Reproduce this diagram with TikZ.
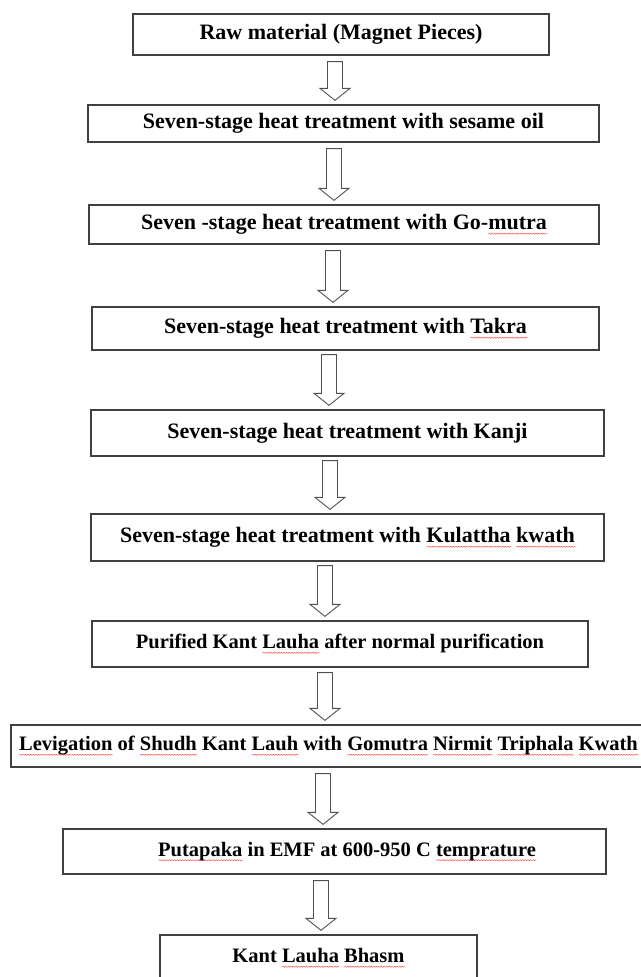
\documentclass[tikz,border=0pt]{standalone}
\usepackage{fontspec}
\setmainfont{Liberation Serif}
\usetikzlibrary{calc,decorations.pathmorphing}
\newsavebox\wordbox
\newcommand\squig[1]{\sbox\wordbox{#1}\rlap{\tikz[baseline=0pt]\draw[red!70,line width=.45pt,decorate,decoration={snake,amplitude=.6pt,segment length=2.6pt}] (0pt,-4pt) -- (\wd\wordbox,-4pt);}\usebox\wordbox}
\definecolor{boxgray}{HTML}{404040}
\definecolor{arrowgray}{HTML}{505050}
\tikzset{
  stepbox/.style={draw=boxgray,line width=1.3pt,inner sep=0pt,font=\bfseries\fontsize{22}{26}\selectfont},
  lowbox/.style={stepbox,font=\bfseries\fontsize{20.5}{24}\selectfont},
  blockarr/.style={draw=arrowgray,line width=.9pt,to path={let \p1=(\tikztostart),\p2=(\tikztotarget) in
    (\x1-7.5pt,\y1)--(\x1+7.5pt,\y1)--(\x1+7.5pt,\y2+16pt)--(\x1+15pt,\y2+16pt)--(\x1,\y2+4pt)
    --(\x1-15pt,\y2+16pt)--(\x1-7.5pt,\y2+16pt)--cycle}}
}
\begin{document}
\begin{tikzpicture}[x=1pt,y=-1pt]
\useasboundingbox (0,0) rectangle (640,977);

\node[stepbox,minimum width=416pt,minimum height=41pt] (b1) at (341,34.5) {Raw material (Magnet Pieces)};
\node[stepbox,minimum width=511pt,minimum height=37pt] (b2) at (343.5,123.5) {Seven-stage heat treatment with sesame oil};
\node[stepbox,minimum width=510pt,minimum height=39pt] (b3) at (344,224.5) {Seven -stage heat treatment with Go-\squig{mutra}};
\node[stepbox,minimum width=507pt,minimum height=43pt] (b4) at (345.5,328.5) {Seven-stage heat treatment with \squig{Takra}};
\node[stepbox,minimum width=513pt,minimum height=46pt] (b5) at (347.5,433) {Seven-stage heat treatment with Kanji};
\node[stepbox,minimum width=513pt,minimum height=47pt] (b6) at (347.5,537.5) {Seven-stage heat treatment with \squig{Kulattha} \squig{kwath}};
\node[lowbox,minimum width=496pt,minimum height=46pt] (b7) at (340,644) {Purified Kant \squig{Lauha} after normal purification};
\node[lowbox,minimum width=635pt,minimum height=42pt] (b8) at (328.5,746) {\squig{Levigation} of \squig{Shudh} Kant \squig{Lauh} with \squig{Gomutra} \squig{Nirmit} \squig{Triphala} \squig{Kwath}};
\node[lowbox,minimum width=543pt,minimum height=45pt] (b9) at (334.5,851.5) {\hspace*{25pt}\squig{Putapaka} in EMF at 600-950 C \squig{temprature}};
\node[lowbox,minimum width=317pt,minimum height=46pt] (b10) at (318.5,958) {Kant \squig{Lauha} \squig{Bhasm}};

\draw[blockarr] ([xshift=-6pt,yshift=-6pt]b1.south) to (b2.north);
\draw[blockarr] ([xshift=-9.5pt,yshift=-6pt]b2.south) to (b3.north);
\draw[blockarr] ([xshift=-11pt,yshift=-6pt]b3.south) to (b4.north);
\draw[blockarr] ([xshift=-16.5pt,yshift=-4pt]b4.south) to (b5.north);
\draw[blockarr] ([xshift=-17.5pt,yshift=-4pt]b5.south) to (b6.north);
\draw[blockarr] ([xshift=-22.5pt,yshift=-4pt]b6.south) to (b7.north);
\draw[blockarr] ([xshift=-15pt,yshift=-5pt]b7.south) to (b8.north);
\draw[blockarr] ([xshift=-5.5pt,yshift=-6pt]b8.south) to (b9.north);
\draw[blockarr] ([xshift=-13.5pt,yshift=-6pt]b9.south) to (b10.north);
\end{tikzpicture}
\end{document}
